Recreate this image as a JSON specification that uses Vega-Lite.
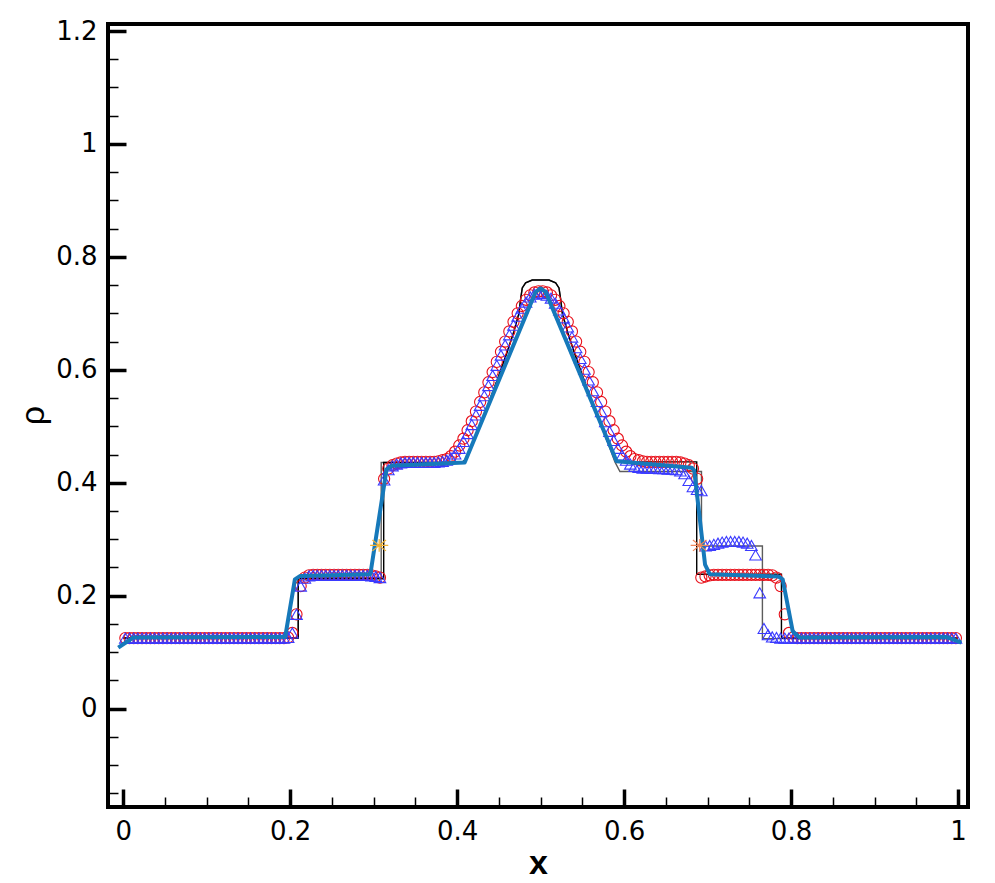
{
  "$schema": "https://vega.github.io/schema/vega-lite/v6.json",
  "autosize": "none",
  "width": 860,
  "height": 783,
  "padding": {"left": 108, "top": 24, "right": 27, "bottom": 76},
  "background": "white",
  "config": {"view": {"stroke": "black", "strokeWidth": 4}},
  "datasets": {
    "grey": [
      {"i":0,"x":0,"y":0.125},{"i":1,"x":0.2096,"y":0.125},{"i":2,"x":0.2096,"y":0.232},{"i":3,"x":0.309,"y":0.232},{"i":4,"x":0.309,"y":0.436},{"i":5,"x":0.405,"y":0.436},{"i":6,"x":0.41,"y":0.44},{"i":7,"x":0.42,"y":0.473},{"i":8,"x":0.43,"y":0.51},{"i":9,"x":0.44,"y":0.55},{"i":10,"x":0.45,"y":0.59},{"i":11,"x":0.46,"y":0.632},{"i":12,"x":0.468,"y":0.668},{"i":13,"x":0.474,"y":0.7},{"i":14,"x":0.476,"y":0.725},{"i":15,"x":0.478,"y":0.745},{"i":16,"x":0.482,"y":0.754},{"i":17,"x":0.49,"y":0.759},{"i":18,"x":0.51,"y":0.759},{"i":19,"x":0.518,"y":0.754},{"i":20,"x":0.522,"y":0.745},{"i":21,"x":0.524,"y":0.725},{"i":22,"x":0.526,"y":0.7},{"i":23,"x":0.532,"y":0.668},{"i":24,"x":0.54,"y":0.632},{"i":25,"x":0.55,"y":0.59},{"i":26,"x":0.56,"y":0.55},{"i":27,"x":0.57,"y":0.51},{"i":28,"x":0.58,"y":0.473},{"i":29,"x":0.589,"y":0.437},{"i":30,"x":0.595,"y":0.42},{"i":31,"x":0.6927,"y":0.42},{"i":32,"x":0.6927,"y":0.288},{"i":33,"x":0.7657,"y":0.288},{"i":34,"x":0.7657,"y":0.124},{"i":35,"x":1,"y":0.124}
    ],
    "black": [
      {"i":0,"x":0,"y":0.125},{"i":1,"x":0.2096,"y":0.125},{"i":2,"x":0.2096,"y":0.23},{"i":3,"x":0.312,"y":0.23},{"i":4,"x":0.312,"y":0.436},{"i":5,"x":0.405,"y":0.436},{"i":6,"x":0.41,"y":0.44},{"i":7,"x":0.42,"y":0.473},{"i":8,"x":0.43,"y":0.51},{"i":9,"x":0.44,"y":0.55},{"i":10,"x":0.45,"y":0.59},{"i":11,"x":0.46,"y":0.632},{"i":12,"x":0.468,"y":0.668},{"i":13,"x":0.474,"y":0.7},{"i":14,"x":0.476,"y":0.725},{"i":15,"x":0.478,"y":0.745},{"i":16,"x":0.482,"y":0.754},{"i":17,"x":0.49,"y":0.759},{"i":18,"x":0.51,"y":0.759},{"i":19,"x":0.518,"y":0.754},{"i":20,"x":0.522,"y":0.745},{"i":21,"x":0.524,"y":0.725},{"i":22,"x":0.526,"y":0.7},{"i":23,"x":0.532,"y":0.668},{"i":24,"x":0.54,"y":0.632},{"i":25,"x":0.55,"y":0.59},{"i":26,"x":0.56,"y":0.55},{"i":27,"x":0.57,"y":0.51},{"i":28,"x":0.58,"y":0.473},{"i":29,"x":0.59,"y":0.44},{"i":30,"x":0.595,"y":0.437},{"i":31,"x":0.687,"y":0.437},{"i":32,"x":0.687,"y":0.238},{"i":33,"x":0.7885,"y":0.238},{"i":34,"x":0.7885,"y":0.125},{"i":35,"x":1,"y":0.125}
    ],
    "coarse": [
      {"i":0,"x":-0.006,"y":0.108},{"i":1,"x":0.012,"y":0.126},{"i":2,"x":0.194,"y":0.127},{"i":3,"x":0.2056,"y":0.229},{"i":4,"x":0.212,"y":0.235},{"i":5,"x":0.296,"y":0.238},{"i":6,"x":0.3154,"y":0.4235},{"i":7,"x":0.3214,"y":0.43},{"i":8,"x":0.409,"y":0.436},{"i":9,"x":0.494,"y":0.738},{"i":10,"x":0.5,"y":0.744},{"i":11,"x":0.506,"y":0.738},{"i":12,"x":0.591,"y":0.438},{"i":13,"x":0.681,"y":0.4266},{"i":14,"x":0.684,"y":0.422},{"i":15,"x":0.697,"y":0.255},{"i":16,"x":0.7026,"y":0.238},{"i":17,"x":0.785,"y":0.234},{"i":18,"x":0.79,"y":0.229},{"i":19,"x":0.802,"y":0.137},{"i":20,"x":0.81,"y":0.126},{"i":21,"x":0.986,"y":0.127},{"i":22,"x":1.004,"y":0.117}
    ],
    "stars": [
      {"x":0.3066,"y":0.289,"s":"left"},{"x":0.6906,"y":0.289,"s":"right"}
    ],
    "pts": [
      {"x":0.0025,"c":0.125,"t":0.125},{"x":0.0075,"c":0.125,"t":0.125},{"x":0.0125,"c":0.125,"t":0.125},{"x":0.0175,"c":0.125,"t":0.125},{"x":0.0225,"c":0.125,"t":0.125},{"x":0.0275,"c":0.125,"t":0.125},{"x":0.0325,"c":0.125,"t":0.125},{"x":0.0375,"c":0.125,"t":0.125},{"x":0.0425,"c":0.125,"t":0.125},{"x":0.0475,"c":0.125,"t":0.125},
      {"x":0.0525,"c":0.125,"t":0.125},{"x":0.0575,"c":0.125,"t":0.125},{"x":0.0625,"c":0.125,"t":0.125},{"x":0.0675,"c":0.125,"t":0.125},{"x":0.0725,"c":0.125,"t":0.125},{"x":0.0775,"c":0.125,"t":0.125},{"x":0.0825,"c":0.125,"t":0.125},{"x":0.0875,"c":0.125,"t":0.125},{"x":0.0925,"c":0.125,"t":0.125},{"x":0.0975,"c":0.125,"t":0.125},
      {"x":0.1025,"c":0.125,"t":0.125},{"x":0.1075,"c":0.125,"t":0.125},{"x":0.1125,"c":0.125,"t":0.125},{"x":0.1175,"c":0.125,"t":0.125},{"x":0.1225,"c":0.125,"t":0.125},{"x":0.1275,"c":0.125,"t":0.125},{"x":0.1325,"c":0.125,"t":0.125},{"x":0.1375,"c":0.125,"t":0.125},{"x":0.1425,"c":0.125,"t":0.125},{"x":0.1475,"c":0.125,"t":0.125},
      {"x":0.1525,"c":0.125,"t":0.125},{"x":0.1575,"c":0.125,"t":0.125},{"x":0.1625,"c":0.125,"t":0.125},{"x":0.1675,"c":0.125,"t":0.125},{"x":0.1725,"c":0.125,"t":0.125},{"x":0.1775,"c":0.125,"t":0.125},{"x":0.1825,"c":0.125,"t":0.125},{"x":0.1875,"c":0.125,"t":0.125},{"x":0.1925,"c":0.125,"t":0.125},{"x":0.1975,"c":0.126,"t":0.126},
      {"x":0.2025,"c":0.134,"t":0.134},{"x":0.2075,"c":0.167,"t":0.167},{"x":0.2125,"c":0.217,"t":0.217},{"x":0.2175,"c":0.232,"t":0.231},{"x":0.2225,"c":0.236,"t":0.235},{"x":0.2275,"c":0.237,"t":0.236},{"x":0.2325,"c":0.237,"t":0.236},{"x":0.2375,"c":0.237,"t":0.236},{"x":0.2425,"c":0.237,"t":0.236},{"x":0.2475,"c":0.237,"t":0.236},
      {"x":0.2525,"c":0.237,"t":0.236},{"x":0.2575,"c":0.237,"t":0.236},{"x":0.2625,"c":0.237,"t":0.236},{"x":0.2675,"c":0.237,"t":0.236},{"x":0.2725,"c":0.237,"t":0.236},{"x":0.2775,"c":0.237,"t":0.236},{"x":0.2825,"c":0.237,"t":0.236},{"x":0.2875,"c":0.237,"t":0.236},{"x":0.2925,"c":0.237,"t":0.236},{"x":0.2975,"c":0.236,"t":0.235},
      {"x":0.3025,"c":0.234,"t":0.234},{"x":0.3075,"c":0.232,"t":0.232},{"x":0.3125,"c":0.407,"t":0.405},{"x":0.3175,"c":0.425,"t":0.423},{"x":0.3225,"c":0.431,"t":0.43},{"x":0.3275,"c":0.434,"t":0.433},{"x":0.3325,"c":0.436,"t":0.435},{"x":0.3375,"c":0.437,"t":0.436},{"x":0.3425,"c":0.437,"t":0.436},{"x":0.3475,"c":0.437,"t":0.436},
      {"x":0.3525,"c":0.437,"t":0.436},{"x":0.3575,"c":0.437,"t":0.436},{"x":0.3625,"c":0.437,"t":0.436},{"x":0.3675,"c":0.437,"t":0.436},{"x":0.3725,"c":0.437,"t":0.436},{"x":0.3775,"c":0.438,"t":0.437},{"x":0.3825,"c":0.44,"t":0.438},{"x":0.3875,"c":0.442,"t":0.44},{"x":0.3925,"c":0.447,"t":0.444},{"x":0.3975,"c":0.455,"t":0.451},
      {"x":0.4025,"c":0.466,"t":0.461},{"x":0.4075,"c":0.478,"t":0.473},{"x":0.4125,"c":0.493,"t":0.487},{"x":0.4175,"c":0.509,"t":0.503},{"x":0.4225,"c":0.526,"t":0.52},{"x":0.4275,"c":0.543,"t":0.537},{"x":0.4325,"c":0.56,"t":0.554},{"x":0.4375,"c":0.578,"t":0.572},{"x":0.4425,"c":0.596,"t":0.59},{"x":0.4475,"c":0.614,"t":0.608},
      {"x":0.4525,"c":0.632,"t":0.626},{"x":0.4575,"c":0.65,"t":0.644},{"x":0.4625,"c":0.668,"t":0.662},{"x":0.4675,"c":0.685,"t":0.679},{"x":0.4725,"c":0.7,"t":0.695},{"x":0.4775,"c":0.713,"t":0.709},{"x":0.4825,"c":0.724,"t":0.72},{"x":0.4875,"c":0.732,"t":0.729},{"x":0.4925,"c":0.737,"t":0.734},{"x":0.4975,"c":0.739,"t":0.736},
      {"x":0.5025,"c":0.739,"t":0.735},{"x":0.5075,"c":0.737,"t":0.732},{"x":0.5125,"c":0.732,"t":0.727},{"x":0.5175,"c":0.724,"t":0.718},{"x":0.5225,"c":0.713,"t":0.706},{"x":0.5275,"c":0.7,"t":0.692},{"x":0.5325,"c":0.685,"t":0.676},{"x":0.5375,"c":0.668,"t":0.658},{"x":0.5425,"c":0.65,"t":0.639},{"x":0.5475,"c":0.632,"t":0.62},
      {"x":0.5525,"c":0.614,"t":0.601},{"x":0.5575,"c":0.596,"t":0.582},{"x":0.5625,"c":0.578,"t":0.563},{"x":0.5675,"c":0.56,"t":0.544},{"x":0.5725,"c":0.543,"t":0.526},{"x":0.5775,"c":0.526,"t":0.508},{"x":0.5825,"c":0.509,"t":0.491},{"x":0.5875,"c":0.493,"t":0.475},{"x":0.5925,"c":0.478,"t":0.461},{"x":0.5975,"c":0.466,"t":0.449},
      {"x":0.6025,"c":0.455,"t":0.44},{"x":0.6075,"c":0.447,"t":0.433},{"x":0.6125,"c":0.442,"t":0.429},{"x":0.6175,"c":0.44,"t":0.427},{"x":0.6225,"c":0.438,"t":0.426},{"x":0.6275,"c":0.437,"t":0.426},{"x":0.6325,"c":0.437,"t":0.426},{"x":0.6375,"c":0.437,"t":0.426},{"x":0.6425,"c":0.437,"t":0.425},{"x":0.6475,"c":0.437,"t":0.425},
      {"x":0.6525,"c":0.437,"t":0.424},{"x":0.6575,"c":0.437,"t":0.424},{"x":0.6625,"c":0.437,"t":0.423},{"x":0.6675,"c":0.436,"t":0.421},{"x":0.6725,"c":0.434,"t":0.416},{"x":0.6775,"c":0.431,"t":0.404},{"x":0.6825,"c":0.425,"t":0.393},{"x":0.6875,"c":0.407,"t":0.388},{"x":0.6925,"c":0.232,"t":0.386},{"x":0.6975,"c":0.234,"t":0.288},
      {"x":0.7025,"c":0.236,"t":0.289},{"x":0.7075,"c":0.237,"t":0.291},{"x":0.7125,"c":0.237,"t":0.293},{"x":0.7175,"c":0.237,"t":0.295},{"x":0.7225,"c":0.237,"t":0.296},{"x":0.7275,"c":0.237,"t":0.296},{"x":0.7325,"c":0.237,"t":0.296},{"x":0.7375,"c":0.237,"t":0.296},{"x":0.7425,"c":0.237,"t":0.295},{"x":0.7475,"c":0.237,"t":0.293},
      {"x":0.7525,"c":0.237,"t":0.289},{"x":0.7575,"c":0.237,"t":0.272},{"x":0.7625,"c":0.237,"t":0.205},{"x":0.7675,"c":0.237,"t":0.142},{"x":0.7725,"c":0.237,"t":0.131},{"x":0.7775,"c":0.236,"t":0.127},{"x":0.7825,"c":0.232,"t":0.126},{"x":0.7875,"c":0.217,"t":0.125},{"x":0.7925,"c":0.167,"t":0.125},{"x":0.7975,"c":0.134,"t":0.125},
      {"x":0.8025,"c":0.126,"t":0.125},{"x":0.8075,"c":0.125,"t":0.125},{"x":0.8125,"c":0.125,"t":0.125},{"x":0.8175,"c":0.125,"t":0.125},{"x":0.8225,"c":0.125,"t":0.125},{"x":0.8275,"c":0.125,"t":0.125},{"x":0.8325,"c":0.125,"t":0.125},{"x":0.8375,"c":0.125,"t":0.125},{"x":0.8425,"c":0.125,"t":0.125},{"x":0.8475,"c":0.125,"t":0.125},
      {"x":0.8525,"c":0.125,"t":0.125},{"x":0.8575,"c":0.125,"t":0.125},{"x":0.8625,"c":0.125,"t":0.125},{"x":0.8675,"c":0.125,"t":0.125},{"x":0.8725,"c":0.125,"t":0.125},{"x":0.8775,"c":0.125,"t":0.125},{"x":0.8825,"c":0.125,"t":0.125},{"x":0.8875,"c":0.125,"t":0.125},{"x":0.8925,"c":0.125,"t":0.125},{"x":0.8975,"c":0.125,"t":0.125},
      {"x":0.9025,"c":0.125,"t":0.125},{"x":0.9075,"c":0.125,"t":0.125},{"x":0.9125,"c":0.125,"t":0.125},{"x":0.9175,"c":0.125,"t":0.125},{"x":0.9225,"c":0.125,"t":0.125},{"x":0.9275,"c":0.125,"t":0.125},{"x":0.9325,"c":0.125,"t":0.125},{"x":0.9375,"c":0.125,"t":0.125},{"x":0.9425,"c":0.125,"t":0.125},{"x":0.9475,"c":0.125,"t":0.125},
      {"x":0.9525,"c":0.125,"t":0.125},{"x":0.9575,"c":0.125,"t":0.125},{"x":0.9625,"c":0.125,"t":0.125},{"x":0.9675,"c":0.125,"t":0.125},{"x":0.9725,"c":0.125,"t":0.125},{"x":0.9775,"c":0.125,"t":0.125},{"x":0.9825,"c":0.125,"t":0.125},{"x":0.9875,"c":0.125,"t":0.125},{"x":0.9925,"c":0.125,"t":0.125},{"x":0.9975,"c":0.125,"t":0.125}
    ]
  },
  "resolve": {"axis": {"x": "independent", "y": "independent"}},
  "layer": [
    {
      "data": {"name": "grey"},
      "mark": {"type": "line", "color": "#5c5c5c", "strokeWidth": 1.4},
      "encoding": {
        "x": {"field": "x", "type": "quantitative", "scale": {"domain": [-0.0183, 1.012], "nice": false, "zero": false},
          "axis": {"orient": "bottom", "values": [0, 0.2, 0.4, 0.6, 0.8, 1], "format": "~g", "tickSize": -18, "tickWidth": 3.5, "tickColor": "black", "domain": false, "grid": false,
            "labelFont": "DejaVu Sans", "labelFontSize": 26, "labelColor": "black", "labelPadding": 29, "labelFlush": false, "labelOverlap": false,
            "title": "x", "titleFont": "Liberation Sans", "titleFontSize": 34, "titleFontWeight": "bold", "titleColor": "black", "titleX": 430, "titleY": 66, "titleAlign": "center", "titleBaseline": "alphabetic"}},
        "y": {"field": "y", "type": "quantitative", "scale": {"domain": [-0.1742, 1.2124], "nice": false, "zero": false},
          "axis": {"orient": "left", "values": [0, 0.2, 0.4, 0.6, 0.8, 1, 1.2], "format": "~g", "tickSize": -18, "tickWidth": 3.5, "tickColor": "black", "domain": false, "grid": false,
            "labelFont": "DejaVu Sans", "labelFontSize": 26, "labelColor": "black", "labelPadding": 29, "labelFlush": false, "labelOverlap": false,
            "title": "ρ", "titleFont": "Liberation Sans", "titleFontSize": 34, "titleFontWeight": "normal", "titleColor": "black", "titleAngle": 270, "titleX": -65, "titleY": 391, "titleAlign": "center", "titleBaseline": "alphabetic"}},
        "order": {"field": "i", "type": "quantitative"}
      }
    },
    {
      "data": {"name": "black"},
      "mark": {"type": "line", "color": "black", "strokeWidth": 1.4},
      "encoding": {
        "x": {"field": "x", "type": "quantitative", "scale": {"domain": [-0.0183, 1.012], "nice": false, "zero": false},
          "axis": {"orient": "bottom", "values": [0.05, 0.1, 0.15, 0.25, 0.3, 0.35, 0.45, 0.5, 0.55, 0.65, 0.7, 0.75, 0.85, 0.9, 0.95], "tickSize": -10, "tickWidth": 1.5, "tickColor": "black", "labels": false, "domain": false, "grid": false, "title": null}},
        "y": {"field": "y", "type": "quantitative", "scale": {"domain": [-0.1742, 1.2124], "nice": false, "zero": false},
          "axis": {"orient": "left", "values": [-0.15, -0.1, -0.05, 0.05, 0.1, 0.15, 0.25, 0.3, 0.35, 0.45, 0.5, 0.55, 0.65, 0.7, 0.75, 0.85, 0.9, 0.95, 1.05, 1.1, 1.15], "tickSize": -10, "tickWidth": 1.5, "tickColor": "black", "labels": false, "domain": false, "grid": false, "title": null}},
        "order": {"field": "i", "type": "quantitative"}
      }
    },
    {
      "data": {"name": "pts"},
      "transform": [{"fold": ["c"], "as": ["k", "y"]}],
      "mark": {"type": "point", "shape": "circle", "filled": false, "color": "#e8101a", "strokeWidth": 1.1, "size": 125, "opacity": 1},
      "encoding": {
        "x": {"field": "x", "type": "quantitative", "scale": {"domain": [-0.0183, 1.012], "nice": false, "zero": false}, "axis": null},
        "y": {"field": "y", "type": "quantitative", "scale": {"domain": [-0.1742, 1.2124], "nice": false, "zero": false}, "axis": null}
      }
    },
    {
      "data": {"name": "pts"},
      "transform": [{"fold": ["t"], "as": ["k", "y"]}],
      "mark": {"type": "point", "shape": "triangle-up", "filled": false, "color": "#3a3aff", "strokeWidth": 1.1, "size": 135, "opacity": 1},
      "encoding": {
        "x": {"field": "x", "type": "quantitative", "scale": {"domain": [-0.0183, 1.012], "nice": false, "zero": false}, "axis": null},
        "y": {"field": "y", "type": "quantitative", "scale": {"domain": [-0.1742, 1.2124], "nice": false, "zero": false}, "axis": null}
      }
    },
    {
      "data": {"name": "coarse"},
      "mark": {"type": "line", "color": "#1679ba", "strokeWidth": 4, "strokeJoin": "round"},
      "encoding": {
        "x": {"field": "x", "type": "quantitative", "scale": {"domain": [-0.0183, 1.012], "nice": false, "zero": false}, "axis": null},
        "y": {"field": "y", "type": "quantitative", "scale": {"domain": [-0.1742, 1.2124], "nice": false, "zero": false}, "axis": null},
        "order": {"field": "i", "type": "quantitative"}
      }
    },
    {
      "data": {"name": "stars"},
      "mark": {"type": "point", "shape": "M-1,0L1,0M-0.75,-0.6L0.75,0.6M-0.75,0.6L0.75,-0.6M0,-0.7L0,0.7", "filled": false, "strokeWidth": 1.2, "size": 330, "opacity": 1},
      "encoding": {
        "x": {"field": "x", "type": "quantitative", "scale": {"domain": [-0.0183, 1.012], "nice": false, "zero": false}, "axis": null},
        "y": {"field": "y", "type": "quantitative", "scale": {"domain": [-0.1742, 1.2124], "nice": false, "zero": false}, "axis": null},
        "color": {"field": "s", "type": "nominal", "scale": {"domain": ["left", "right"], "range": ["#f2b233", "#f0875a"]}, "legend": null}
      }
    }
  ]
}
